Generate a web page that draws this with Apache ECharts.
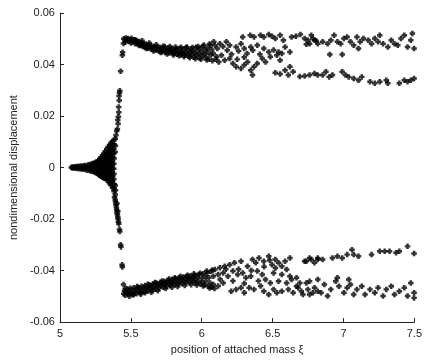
<!DOCTYPE html>
<html>
<head>
<meta charset="utf-8">
<script src="https://cdn.jsdelivr.net/npm/echarts@6/dist/echarts.min.js"></script>
<style>
  html, body { margin: 0; padding: 0; background: #fff; }
  #chart { width: 425px; height: 360px; }
</style>
</head>
<body>
<div id="chart"></div>
<script>
// axis ticks
var xTicks = [5, 5.5, 6, 6.5, 7, 7.5];
var yTicks = [-0.06, -0.04, -0.02, 0, 0.02, 0.04, 0.06];

// small-amplitude spindle around zero (x, y)
var spindle = [
  [5.080,0.0000],[5.088,0.0002],[5.090,-0.0002],[5.097,0.0001],[5.100,-0.0001],[5.106,0.0003],[5.110,-0.0003],
  [5.115,0.0000],[5.120,0.0004],[5.124,-0.0004],[5.130,0.0001],[5.135,0.0005],[5.138,-0.0005],[5.145,0.0000],
  [5.150,0.0006],[5.152,-0.0006],[5.160,0.0002],[5.165,-0.0007],[5.168,0.0007],[5.175,-0.0001],[5.180,0.0008],
  [5.183,-0.0009],[5.190,0.0003],[5.195,-0.0010],[5.198,0.0010],[5.205,-0.0002],[5.210,0.0012],[5.212,-0.0012],
  [5.220,0.0004],[5.224,-0.0014],[5.226,0.0015],[5.232,-0.0004],[5.236,0.0017],[5.240,-0.0017],[5.244,0.0006],
  [5.248,-0.0008],[5.250,0.0020],[5.254,-0.0020],
  [5.260,0.0022],[5.260,0.0008],[5.262,-0.0007],[5.260,-0.0021],
  [5.270,0.0027],[5.268,0.0012],[5.271,-0.0003],[5.270,-0.0017],[5.272,-0.0026],
  [5.280,0.0033],[5.279,0.0018],[5.281,0.0004],[5.280,-0.0010],[5.282,-0.0024],[5.279,-0.0031],
  [5.290,0.0040],[5.291,0.0025],[5.289,0.0010],[5.290,-0.0005],[5.292,-0.0020],[5.290,-0.0034],
  [5.300,0.0047],[5.299,0.0032],[5.301,0.0017],[5.300,0.0002],[5.302,-0.0013],[5.299,-0.0028],[5.301,-0.0038],
  [5.310,0.0055],[5.309,0.0040],[5.311,0.0025],[5.310,0.0010],[5.312,-0.0005],[5.309,-0.0020],[5.311,-0.0035],[5.310,-0.0042],
  [5.320,0.0063],[5.321,0.0048],[5.319,0.0033],[5.320,0.0018],[5.322,0.0003],[5.320,-0.0012],[5.319,-0.0027],[5.321,-0.0042],
  [5.330,0.0072],[5.331,0.0057],[5.329,0.0042],[5.330,0.0027],[5.332,0.0012],[5.330,-0.0003],[5.329,-0.0018],[5.331,-0.0033],[5.330,-0.0048],
  [5.340,0.0080],[5.341,0.0065],[5.339,0.0050],[5.340,0.0035],[5.342,0.0020],[5.340,0.0005],[5.339,-0.0010],[5.341,-0.0025],[5.340,-0.0040],[5.342,-0.0054],
  [5.350,0.0088],[5.351,0.0073],[5.349,0.0058],[5.350,0.0043],[5.352,0.0028],[5.350,0.0013],[5.349,-0.0002],[5.351,-0.0017],[5.350,-0.0032],[5.352,-0.0047],[5.350,-0.0061],
  [5.360,0.0095],[5.361,0.0080],[5.359,0.0065],[5.360,0.0050],[5.362,0.0035],[5.360,0.0020],[5.359,0.0005],[5.361,-0.0010],[5.360,-0.0025],[5.362,-0.0040],[5.360,-0.0055],[5.361,-0.0069],
  [5.370,0.0101],[5.371,0.0086],[5.369,0.0071],[5.370,0.0056],[5.372,0.0041],[5.370,0.0026],[5.369,0.0011],[5.371,-0.0004],[5.370,-0.0019],[5.372,-0.0034],[5.370,-0.0049],[5.369,-0.0064],[5.371,-0.0078],
  [5.380,0.0106],[5.381,0.0090],[5.379,0.0072],[5.380,0.0055],[5.382,0.0035],[5.380,0.0015],[5.379,-0.0005],[5.381,-0.0025],[5.380,-0.0045],[5.382,-0.0065],[5.380,-0.0080],[5.381,-0.0092],
  [5.390,0.0112],[5.391,0.0085],[5.389,0.0060],[5.390,-0.0070],[5.392,-0.0088],[5.390,-0.0105]
];

// jump to the upper and lower branches
var upperRise = [
  [5.395,0.0125],[5.400,0.0142],[5.405,0.0150],[5.410,0.0170],[5.408,0.0185],[5.412,0.0197],[5.415,0.0215],
  [5.414,0.0235],[5.418,0.0260],[5.417,0.0278],[5.420,0.0290],[5.422,0.0298],[5.428,0.0374],[5.440,0.0436],
  [5.442,0.0448],[5.448,0.0482]
];
var lowerRise = [
  [5.385,-0.0115],[5.390,-0.0125],[5.392,-0.0135],[5.395,-0.0145],[5.398,-0.0155],[5.400,-0.0165],[5.402,-0.0175],
  [5.405,-0.0182],[5.408,-0.0192],[5.410,-0.0200],[5.412,-0.0210],[5.408,-0.0170],[5.402,-0.0140],[5.415,-0.0218],
  [5.420,-0.0240],[5.422,-0.0248],[5.428,-0.0300],[5.430,-0.0308],[5.438,-0.0377],[5.440,-0.0386],[5.448,-0.0454]
];

// dense upper band 5.45 - 6.1
var upperBand = [
  [5.45,0.0500],[5.46,0.0494],[5.465,0.0503],[5.47,0.0496],[5.48,0.0501],[5.485,0.0489],[5.49,0.0497],[5.50,0.0493],
  [5.505,0.0502],[5.51,0.0486],[5.52,0.0496],[5.525,0.0490],[5.53,0.0481],[5.54,0.0493],[5.545,0.0485],[5.55,0.0478],
  [5.56,0.0489],[5.565,0.0482],[5.57,0.0474],[5.58,0.0484],[5.585,0.0470],[5.59,0.0478],[5.60,0.0466],[5.605,0.0480],
  [5.61,0.0472],[5.62,0.0463],[5.625,0.0476],[5.63,0.0469],[5.64,0.0460],[5.645,0.0473],[5.65,0.0466],[5.66,0.0458],
  [5.665,0.0470],[5.67,0.0463],[5.68,0.0455],[5.685,0.0468],[5.69,0.0461],[5.70,0.0452],[5.705,0.0466],[5.71,0.0458],
  [5.72,0.0449],[5.725,0.0462],[5.73,0.0455],[5.74,0.0468],[5.745,0.0447],[5.75,0.0459],[5.76,0.0452],[5.765,0.0464],
  [5.77,0.0445],[5.78,0.0457],[5.785,0.0450],[5.79,0.0462],[5.80,0.0443],[5.805,0.0455],[5.81,0.0448],[5.82,0.0460],
  [5.825,0.0440],[5.83,0.0452],[5.84,0.0446],[5.845,0.0463],[5.85,0.0438],[5.86,0.0450],[5.865,0.0444],[5.87,0.0458],
  [5.88,0.0436],[5.885,0.0448],[5.89,0.0465],[5.90,0.0441],[5.905,0.0454],[5.91,0.0432],[5.92,0.0447],[5.925,0.0460],
  [5.93,0.0439],[5.94,0.0452],[5.945,0.0428],[5.95,0.0445],[5.96,0.0467],[5.965,0.0436],[5.97,0.0456],[5.98,0.0442],
  [5.985,0.0425],[5.99,0.0462],[6.00,0.0448],[6.005,0.0433],[6.01,0.0470],[6.02,0.0440],[6.025,0.0455],[6.03,0.0428],
  [6.04,0.0463],[6.045,0.0447],[6.05,0.0420],[6.06,0.0475],[6.065,0.0437],[6.07,0.0458],
  [5.46,0.0486],[5.50,0.0484],[5.53,0.0496],[5.56,0.0474],[5.58,0.0492],[5.61,0.0462],[5.63,0.0484],[5.66,0.0452],
  [5.68,0.0477],[5.71,0.0447],[5.73,0.0472],[5.755,0.0441],[5.775,0.0470],[5.80,0.0437],[5.815,0.0468],[5.84,0.0434],
  [5.855,0.0467],[5.875,0.0430],[5.895,0.0468],[5.915,0.0426],[5.935,0.0466],[5.955,0.0422],[5.975,0.0470],
  [5.995,0.0420],[6.015,0.0476],[6.035,0.0418],[6.055,0.0480],[6.075,0.0415],[6.085,0.0488],[6.10,0.0420]
];

// dense lower band 5.45 - 6.1
var lowerBand = [
  [5.45,-0.0490],[5.455,-0.0478],[5.46,-0.0496],[5.47,-0.0484],[5.475,-0.0471],[5.48,-0.0491],[5.49,-0.0480],
  [5.495,-0.0469],[5.50,-0.0488],[5.51,-0.0476],[5.515,-0.0494],[5.52,-0.0467],[5.53,-0.0483],[5.535,-0.0472],
  [5.54,-0.0490],[5.55,-0.0465],[5.555,-0.0479],[5.56,-0.0470],[5.57,-0.0486],[5.575,-0.0461],[5.58,-0.0475],
  [5.59,-0.0466],[5.595,-0.0482],[5.60,-0.0458],[5.61,-0.0472],[5.615,-0.0463],[5.62,-0.0479],[5.63,-0.0455],
  [5.635,-0.0469],[5.64,-0.0460],[5.65,-0.0476],[5.655,-0.0452],[5.66,-0.0466],[5.67,-0.0457],[5.675,-0.0472],
  [5.68,-0.0448],[5.69,-0.0462],[5.695,-0.0453],[5.70,-0.0468],[5.71,-0.0445],[5.715,-0.0458],[5.72,-0.0450],
  [5.73,-0.0465],[5.735,-0.0441],[5.74,-0.0455],[5.75,-0.0447],[5.755,-0.0461],[5.76,-0.0438],[5.77,-0.0452],
  [5.775,-0.0444],[5.78,-0.0458],[5.79,-0.0435],[5.795,-0.0449],[5.80,-0.0441],[5.81,-0.0455],[5.815,-0.0432],
  [5.82,-0.0446],[5.83,-0.0438],[5.835,-0.0452],[5.84,-0.0428],[5.85,-0.0443],[5.855,-0.0435],[5.86,-0.0450],
  [5.87,-0.0425],[5.875,-0.0440],[5.88,-0.0432],[5.89,-0.0447],[5.895,-0.0422],[5.90,-0.0437],[5.91,-0.0430],
  [5.915,-0.0445],[5.92,-0.0420],[5.93,-0.0435],[5.935,-0.0428],[5.94,-0.0443],[5.95,-0.0418],[5.955,-0.0433],
  [5.96,-0.0447],[5.97,-0.0425],[5.975,-0.0440],[5.98,-0.0414],[5.99,-0.0452],[6.00,-0.0430],[6.005,-0.0445],
  [6.01,-0.0412],[6.02,-0.0456],[6.025,-0.0422],[6.03,-0.0440],[6.04,-0.0408],[6.045,-0.0460],[6.05,-0.0428],
  [6.06,-0.0448],[6.065,-0.0404],[6.07,-0.0465],
  [5.46,-0.0470],[5.49,-0.0500],[5.52,-0.0493],[5.545,-0.0462],[5.57,-0.0492],[5.60,-0.0486],[5.62,-0.0453],
  [5.645,-0.0484],[5.67,-0.0446],[5.69,-0.0478],[5.72,-0.0440],[5.745,-0.0470],[5.77,-0.0433],[5.79,-0.0465],
  [5.81,-0.0428],[5.83,-0.0462],[5.85,-0.0422],[5.88,-0.0458],[5.90,-0.0418],[5.925,-0.0455],[5.945,-0.0412],
  [5.965,-0.0456],[5.99,-0.0410],[6.01,-0.0460],[6.035,-0.0402],[6.055,-0.0468],[6.075,-0.0398],[6.09,-0.0470]
];

// scattered upper points 6.07 - 7.5
var upperScatter = [
  [6.289,0.0507],[6.342,0.0514],[6.369,0.0507],[6.415,0.0514],[6.438,0.0507],[6.473,0.0517],[6.496,0.0510],
  [6.519,0.0501],[6.553,0.0514],[6.576,0.0494],[6.634,0.0507],[6.664,0.0510],[6.696,0.0517],[6.726,0.0501],
  [6.749,0.0494],[6.784,0.0501],[6.807,0.0492],[6.761,0.0481],[6.738,0.0479],
  [6.093,0.0475],[6.128,0.0481],[6.174,0.0488],[6.197,0.0475],[6.243,0.0468],[6.277,0.0481],[6.300,0.0462],
  [6.346,0.0468],[6.392,0.0475],[6.438,0.0462],[6.473,0.0449],[6.507,0.0456],[6.542,0.0449],[6.565,0.0443],
  [6.622,0.0449],[6.588,0.0468],
  [6.082,0.0443],[6.105,0.0430],[6.139,0.0436],[6.162,0.0417],[6.197,0.0423],[6.220,0.0404],[6.243,0.0391],
  [6.277,0.0385],[6.300,0.0398],[6.323,0.0410],[6.346,0.0378],[6.369,0.0391],[6.392,0.0404],[6.427,0.0423],
  [6.450,0.0410],[6.484,0.0430],[6.530,0.0436],[6.553,0.0417],
  [6.11,0.0462],[6.15,0.0470],[6.18,0.0455],[6.21,0.0440],[6.26,0.0452],[6.32,0.0443],[6.36,0.0455],
  [6.41,0.0440],[6.12,0.0410],[6.25,0.0420],[6.30,0.0428],
  [6.773,0.0514],[6.796,0.0494],[6.819,0.0481],[6.853,0.0488],[6.888,0.0481],[6.911,0.0494],[6.934,0.0514],
  [6.957,0.0488],[6.980,0.0481],[7.003,0.0501],[7.026,0.0507],[7.049,0.0488],[7.072,0.0475],[7.095,0.0507],
  [7.118,0.0488],[7.141,0.0501],[7.175,0.0494],[7.198,0.0481],[7.221,0.0501],[7.244,0.0488],[7.256,0.0514],
  [7.279,0.0481],[7.313,0.0468],[7.337,0.0494],[7.360,0.0481],[7.383,0.0475],[7.406,0.0501],[7.429,0.0514],
  [7.452,0.0468],[7.475,0.0494],[7.486,0.0520],[7.498,0.0462],
  [6.904,0.0439],[6.991,0.0439],[7.106,0.0462]
];

// lower-amplitude branch of the upper side (about 0.035)
var upperInner = [
  [6.358,0.0359],[6.519,0.0368],[6.553,0.0363],[6.588,0.0378],[6.622,0.0391],[6.645,0.0372],[6.611,0.0359],
  [6.692,0.0353],[6.726,0.0355],[6.761,0.0359],[6.795,0.0365],[6.818,0.0359],
  [6.853,0.0359],[6.876,0.0372],[6.899,0.0352],[6.922,0.0359],[6.991,0.0372],[7.014,0.0359],[7.037,0.0352],
  [7.072,0.0346],[7.106,0.0339],[7.129,0.0352],[7.187,0.0333],[7.221,0.0327],[7.256,0.0333],[7.302,0.0339],
  [7.313,0.0327],[7.394,0.0327],[7.429,0.0339],[7.452,0.0333],[7.475,0.0339],[7.498,0.0346]
];

// lower-amplitude branch of the lower side (about -0.035)
var lowerInner = [
  [6.093,-0.0396],[6.128,-0.0389],[6.162,-0.0383],[6.197,-0.0377],[6.231,-0.0370],[6.277,-0.0364],[6.323,-0.0383],
  [6.358,-0.0357],[6.381,-0.0370],[6.404,-0.0351],[6.438,-0.0364],[6.473,-0.0344],[6.496,-0.0377],[6.519,-0.0357],
  [6.542,-0.0370],[6.565,-0.0383],[6.588,-0.0364],[6.622,-0.0351],[6.599,-0.0396],[6.738,-0.0364],[6.761,-0.0351],
  [6.795,-0.0370],[6.818,-0.0357],
  [6.726,-0.0364],[6.773,-0.0357],[6.819,-0.0351],[6.853,-0.0357],[6.922,-0.0351],[6.957,-0.0344],[6.991,-0.0351],
  [7.026,-0.0338],[7.060,-0.0319],[7.072,-0.0338],[7.106,-0.0344],[7.198,-0.0338],[7.256,-0.0325],[7.291,-0.0325],
  [7.325,-0.0325],[7.371,-0.0331],[7.394,-0.0325],[7.452,-0.0306],[7.498,-0.0334]
];

// scattered lower points 6.07 - 7.5
var lowerScatter = [
  [6.082,-0.0422],[6.116,-0.0415],[6.151,-0.0409],[6.185,-0.0422],[6.220,-0.0402],[6.254,-0.0415],[6.289,-0.0409],
  [6.312,-0.0428],[6.346,-0.0422],[6.392,-0.0402],[6.427,-0.0415],[6.450,-0.0435],[6.507,-0.0409],[6.565,-0.0415],
  [6.622,-0.0422],[6.484,-0.0448],[6.542,-0.0441],[6.599,-0.0448],[6.669,-0.0428],
  [6.082,-0.0454],[6.116,-0.0460],[6.151,-0.0448],[6.208,-0.0480],[6.243,-0.0473],[6.277,-0.0467],[6.300,-0.0486],
  [6.335,-0.0467],[6.369,-0.0473],[6.415,-0.0460],[6.438,-0.0480],[6.473,-0.0493],[6.507,-0.0473],[6.530,-0.0486],
  [6.565,-0.0480],[6.611,-0.0473],[6.645,-0.0486],[6.680,-0.0467],[6.714,-0.0493],[6.749,-0.0473],[6.784,-0.0486],
  [6.818,-0.0480],[6.692,-0.0448],[6.761,-0.0441],
  [6.13,-0.0435],[6.17,-0.0395],[6.22,-0.0440],[6.26,-0.0395],[6.30,-0.0450],[6.35,-0.0400],[6.40,-0.0440],
  [6.44,-0.0385],[6.48,-0.0360],[6.52,-0.0390],
  [6.634,-0.0435],[6.669,-0.0461],[6.703,-0.0480],[6.738,-0.0448],[6.761,-0.0493],[6.796,-0.0467],[6.819,-0.0435],
  [6.842,-0.0486],[6.865,-0.0454],[6.888,-0.0499],[6.911,-0.0473],[6.945,-0.0441],[6.968,-0.0461],[7.003,-0.0486],
  [7.026,-0.0467],[7.049,-0.0454],[7.072,-0.0493],[7.095,-0.0473],[7.129,-0.0461],[7.152,-0.0493],[7.187,-0.0473],
  [7.221,-0.0486],[7.244,-0.0467],[7.279,-0.0499],[7.302,-0.0473],[7.337,-0.0461],[7.360,-0.0493],[7.394,-0.0480],
  [7.429,-0.0467],[7.452,-0.0499],[7.475,-0.0448],[7.498,-0.0486],[7.498,-0.0506],[6.957,-0.0428],[7.037,-0.0435]
];

var chart = echarts.init(document.getElementById('chart'), null, { renderer: 'canvas' });

// chunky "+" marker like the original dots
var marker = 'path://M-0.45,-1L0.45,-1L0.45,-0.45L1,-0.45L1,0.45L0.45,0.45L0.45,1L-0.45,1L-0.45,0.45L-1,0.45L-1,-0.45L-0.45,-0.45Z';
function dots(data) {
  return {
    type: 'scatter',
    data: data,
    symbol: marker,
    symbolSize: 5.5,
    itemStyle: { color: '#000' },
    silent: true
  };
}

var axisFont = { fontFamily: 'Liberation Sans, Arial, sans-serif', fontSize: 11, color: '#222' };

chart.setOption({
  animation: false,
  backgroundColor: '#fff',
  grid: { left: 55, right: 8, top: 13, bottom: 37 },
  xAxis: {
    type: 'value',
    min: xTicks[0],
    max: xTicks[xTicks.length - 1],
    interval: 0.5,
    name: 'position of attached mass ξ',
    nameLocation: 'middle',
    nameGap: 21,
    nameTextStyle: axisFont,
    axisLine: { show: true, onZero: false, lineStyle: { color: '#222', width: 1 } },
    axisTick: { show: true, inside: true, length: 4, lineStyle: { color: '#222' } },
    axisLabel: Object.assign({ margin: 6, formatter: function (v) { return String(v); } }, axisFont),
    splitLine: { show: false }
  },
  yAxis: {
    type: 'value',
    min: yTicks[0],
    max: yTicks[yTicks.length - 1],
    interval: 0.02,
    name: 'nondimensional displacement',
    nameLocation: 'middle',
    nameGap: 38,
    nameTextStyle: axisFont,
    axisLine: { show: true, onZero: false, lineStyle: { color: '#222', width: 1 } },
    axisTick: { show: true, inside: true, length: 4, lineStyle: { color: '#222' } },
    axisLabel: Object.assign({ margin: 5, formatter: function (v) { return String(Math.round(v * 100) / 100); } }, axisFont),
    splitLine: { show: false }
  },
  series: [
    dots(spindle),
    dots(upperRise),
    dots(lowerRise),
    dots(upperBand),
    dots(lowerBand),
    dots(upperScatter),
    dots(upperInner),
    dots(lowerInner),
    dots(lowerScatter)
  ]
});
</script>
</body>
</html>
